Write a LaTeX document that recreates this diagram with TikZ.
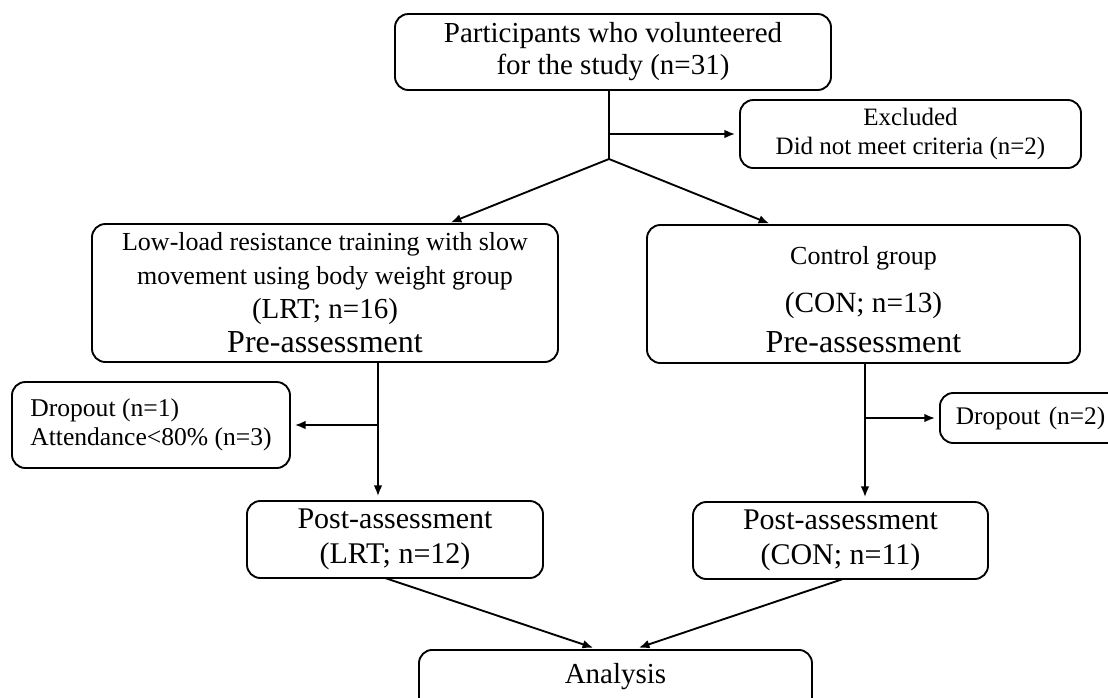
\documentclass[tikz,border=0pt]{standalone}
\usepackage{fontspec}
\setmainfont{Liberation Serif}
\usetikzlibrary{arrows.meta}

\begin{document}
\begin{tikzpicture}[x=.75pt,y=-.75pt,line width=1.4pt,
  box/.style={draw,rounded corners=10pt,align=center,inner sep=0pt},
  arr/.style={-{Latex[length=8pt,width=6.5pt]},shorten >=3pt}]
\useasboundingbox (0,0) rectangle (1108,697);
\node[box,minimum width=327pt,minimum height=57pt,
  font=\fontsize{21.75}{24}\selectfont] (top) at (613,52)
  {Participants who volunteered\\for the study (n=31)};
\node[box,minimum width=255.75pt,minimum height=51pt,
  font=\fontsize{18.75}{21.75}\selectfont] (excluded) at (910.5,134)
  {Excluded\\Did not meet criteria (n=2)};
\node[box,minimum width=349.5pt,minimum height=103.5pt,
  font=\fontsize{19.5}{25.5}\selectfont] (lrt) at (325,293)
  {Low-load resistance training with slow\\movement using body weight group\\
   {\fontsize{21.75}{25.5}\selectfont (LRT; n=16)}\\
   {\fontsize{24}{25.5}\selectfont Pre-assessment}};
\node[box,minimum width=324.75pt,minimum height=103.5pt,
  font=\fontsize{19.5}{25.5}\selectfont] (con) at (863.5,294)
  {\rule{0pt}{22pt}Control group\\[10.5pt]
   {\fontsize{22}{25.5}\selectfont (CON; n=13)}\\[4.5pt]
   {\fontsize{24}{25.5}\selectfont Pre-assessment}};
\node[box,align=left,minimum width=208.5pt,minimum height=64.5pt,
  font=\fontsize{19.2}{21.75}\selectfont] (dropl) at (151,425)
  {Dropout (n=1)\\Attendance<80\% (n=3)};
\node[box,anchor=west,align=left,text width=130pt,inner xsep=12pt,
  minimum height=37.5pt,font=\fontsize{19}{22}\selectfont] (dropr) at (939,418)
  {\mbox{Dropout (n=2)}};
\node[box,minimum width=222pt,minimum height=57.75pt,
  font=\fontsize{22.5}{26}\selectfont] (postl) at (395,539.5)
  {Post-assessment\\(LRT; n=12)};
\node[box,minimum width=221.25pt,minimum height=57.75pt,
  font=\fontsize{22.5}{26}\selectfont] (postr) at (840.5,540.5)
  {Post-assessment\\(CON; n=11)};
\node[box,anchor=north,minimum width=294.75pt,minimum height=46.5pt,
  text depth=11pt,font=\fontsize{21.75}{24}\selectfont] (analysis) at (615.5,649)
  {Analysis};
% connector points
\coordinate (split) at (609,159);
\coordinate (lrtin) at (447,224);
\coordinate (conin) at (773,225);
\coordinate (lrtdown) at (378,362);
\coordinate (condown) at (865,363);
\coordinate (postlout) at (385,578);
\coordinate (postrout) at (843,579);
\coordinate (anal) at (597,649);
\coordinate (anar) at (635,649);
\draw (split |- top.south) -- (split);
\draw[arr] (split |- excluded.west) -- (excluded.west);
\draw[arr] (split) -- (lrtin);
\draw[arr] (split) -- (conin);
\draw[arr] (lrtdown) -- (lrtdown |- postl.north);
\draw[arr] (lrtdown |- dropl.east) -- (dropl.east);
\draw[arr] (condown) -- (condown |- postr.north);
\draw[arr] (condown |- dropr.west) -- (dropr.west);
\draw[arr] (postlout) -- (anal);
\draw[arr] (postrout) -- (anar);
\end{tikzpicture}
\end{document}
